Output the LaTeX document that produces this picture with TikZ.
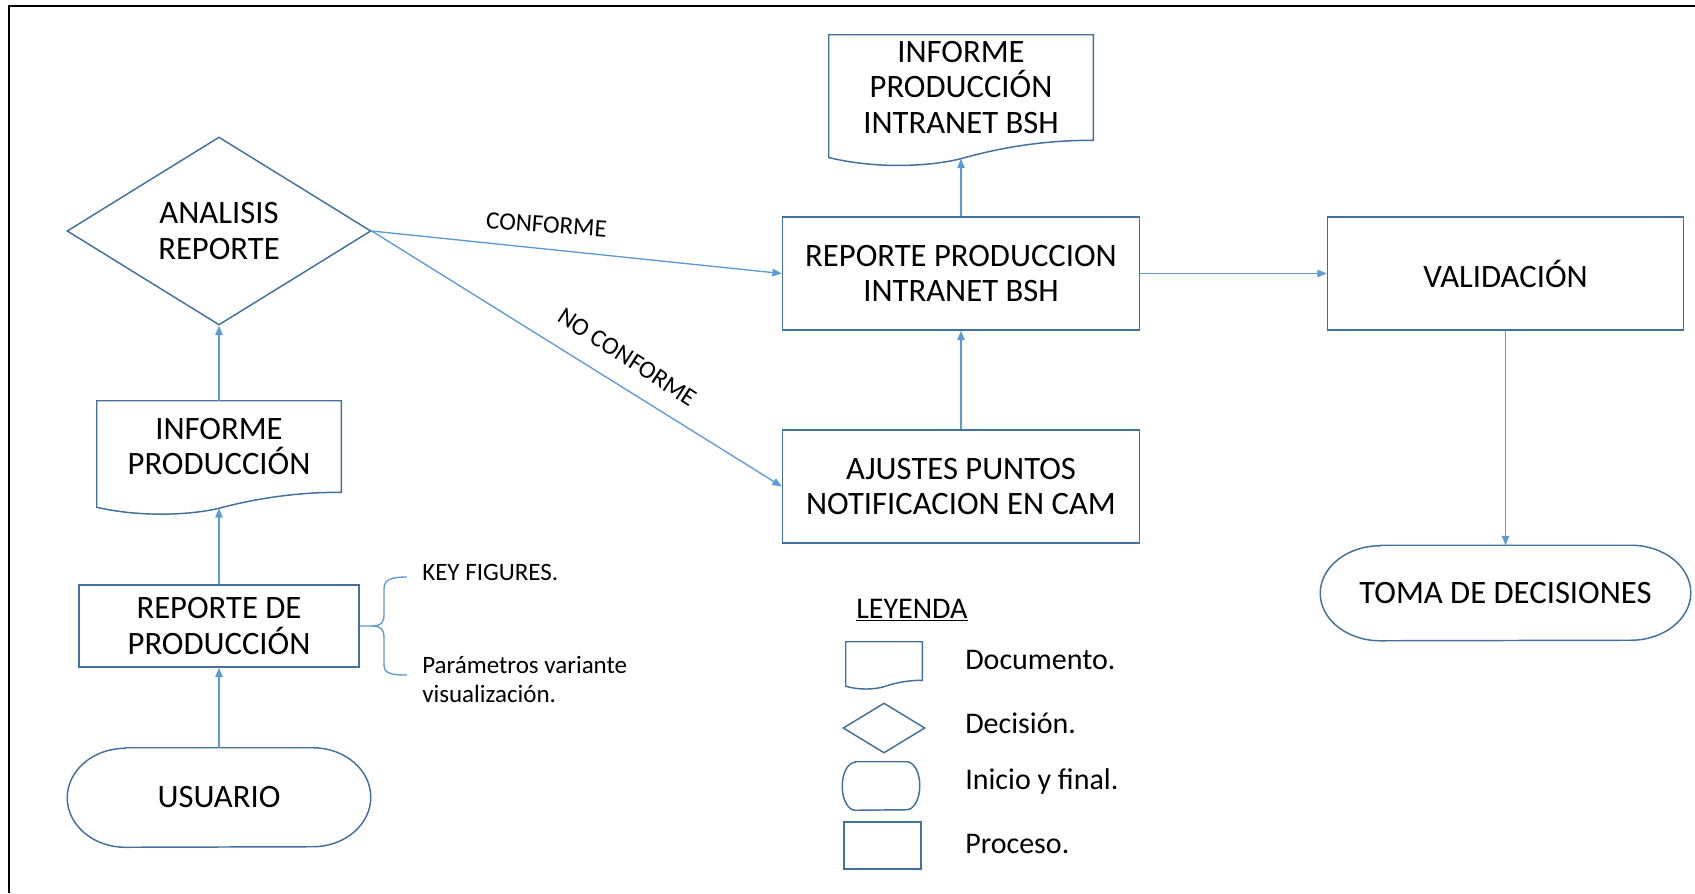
\documentclass[tikz,border=0pt]{standalone}
\usepackage{fontspec}
\setmainfont{Carlito}
\usetikzlibrary{shapes.geometric,arrows.meta,calc}
\definecolor{shpblue}{RGB}{65,113,156}
\definecolor{lnblue}{RGB}{91,155,213}
\newcommand\PX{0.75pt}
\newcommand\mainf{\fontsize{24.5}{26.6}\selectfont}
\newcommand\legf{\fontsize{22.5}{27}\selectfont}
\newcommand\smallf{\fontsize{18.75}{21.75}\selectfont}
% document shape drawn round a rectangle node: name, wave scale
\newcommand\mydoc[2]{%
  \draw[shp] (#1.south east) -- (#1.north east) -- (#1.north west) -- ($(#1.south west)+(0,{15*#2})$)
   .. controls ($(#1.south west)!0.176!(#1.south east)+(0,{25*#2})$) and ($(#1.south west)!0.38!(#1.south east)+(0,{23*#2})$) .. ($(#1.south)+(0,{16*#2})$)
   .. controls ($(#1.south west)!0.624!(#1.south east)+(0,{8*#2})$) and ($(#1.south west)!0.788!(#1.south east)$) .. (#1.south east) -- cycle;
  \coordinate (#1-b) at ($(#1.south)+(0,{16*#2})$);}
% terminator shape: name, x radius (px), y radius (px)
\newcommand\myterm[3]{%
  \draw[shp] ($(#1.north west)+(#2,0)$) -- ($(#1.north east)+(-#2,0)$)
    arc[start angle=90,end angle=-90,x radius=#2*\PX,y radius=#3*\PX]
    -- ($(#1.south west)+(#2,0)$)
    arc[start angle=-90,end angle=-270,x radius=#2*\PX,y radius=#3*\PX] -- cycle;}
\tikzset{
  shp/.style={draw=shpblue, line width=1.1pt},
  conn/.style={draw=lnblue, line width=1pt, -{Triangle[length=7pt,width=5.5pt]}},
  brc/.style={draw=lnblue, line width=1pt},
  box/.style={rectangle, shp, inner sep=0pt, align=center, font=\mainf},
  blank/.style={rectangle, inner sep=0pt, align=center, font=\mainf},
  dianode/.style={diamond, shp, inner sep=0pt, aspect=1.6, align=center, font=\mainf},
  leg/.style={inner sep=0pt, font=\legf},
  sidetxt/.style={inner sep=0pt, font=\smallf},
  lab/.style={inner sep=0pt, font=\smallf},
}
\begin{document}
\begin{tikzpicture}[x=0.75pt,y=-0.75pt]
\useasboundingbox (0,0) rectangle (1695,893);
\fill[white] (0,0) rectangle (1695,893);
\draw[line width=2.2pt, line join=miter] (9,893) -- (9,6) -- (1695,6);

% left column
\node[dianode, minimum width=304*\PX, minimum height=188*\PX] (dia) at (219,231) {ANALISIS\\REPORTE};
\node[blank, minimum width=244*\PX, minimum height=91*\PX] (ipd) at (219,446.5) {INFORME\\PRODUCCIÓN};
\node[box, minimum width=280*\PX, minimum height=82*\PX] (rdp) at (219,626) {REPORTE DE\\PRODUCCIÓN};
\node[blank, minimum width=303*\PX, minimum height=99*\PX] (usr) at (219,797.5) {USUARIO};

% middle column
\node[blank, minimum width=264*\PX, minimum height=105*\PX] (ipi) at (961,87.5) {INFORME\\PRODUCCIÓN\\INTRANET BSH};
\node[box, minimum width=357*\PX, minimum height=113*\PX] (rpi) at (961,273.5) {REPORTE PRODUCCION\\INTRANET BSH};
\node[box, minimum width=357*\PX, minimum height=113*\PX] (aju) at (961,486.5) {AJUSTES PUNTOS\\NOTIFICACION EN CAM};

% right column
\node[box, minimum width=356*\PX, minimum height=113*\PX] (val) at (1505.5,273.5) {VALIDACIÓN};
\node[blank, minimum width=370*\PX, minimum height=95*\PX] (tom) at (1505.5,593) {TOMA DE DECISIONES};

% shapes drawn round the blank nodes
\mydoc{ipd}{1}
\mydoc{ipi}{1.15}
\myterm{usr}{58}{49.5}
\myterm{tom}{60}{47.5}

% side notes
\node[sidetxt, anchor=base west] (tkey) at (422,580) {KEY FIGURES.};
\node[sidetxt, anchor=base west] (tpar) at (422,673) {Parámetros variante};
\node[sidetxt, anchor=base west] (tvis) at (422,702) {visualización.};
\coordinate (bt) at (407,577);
\coordinate (bb) at (407,675);
\draw[brc] (rdp.east) -- (372,626) .. controls (381,626) and (384,623) .. (384,614) -- (384,589) .. controls (384,580) and (390,577) .. (bt);
\draw[brc] (372,626) .. controls (381,626) and (384,629) .. (384,638) -- (384,665) .. controls (384,673) and (390,675) .. (bb);

% connectors
\draw[conn] (usr.north) -- (rdp.south);
\draw[conn] (rdp.north) -- (ipd-b);
\draw[conn] (ipd.north) -- (dia.south);
\draw[conn] (dia.east) -- (rpi.west);
\draw[conn] (dia.east) -- (aju.west);
\draw[conn] (aju.north) -- (rpi.south);
\draw[conn] (rpi.north) -- (ipi-b);
\draw[conn] (rpi.east) -- (val.west);
\draw[conn] (val.south) -- (tom.north);

\node[lab, rotate=-4] (lconf) at (546.5,225) {CONFORME};
\node[lab, rotate=-33] (lnoconf) at (627.5,357.5) {NO CONFORME};

% legend
\node[leg, anchor=base west] (tley) at (856,618) {\underline{LEYENDA}};
\node[blank, minimum width=76*\PX, minimum height=38*\PX] (ldoc) at (884,661) {};
\mydoc{ldoc}{0.4}
\node[diamond, shp, inner sep=0pt, minimum width=82*\PX, minimum height=50*\PX] (ldia) at (884,728) {};
\node[blank, minimum width=77*\PX, minimum height=48*\PX] (lter) at (881,786) {};
\myterm{lter}{13}{24}
\node[rectangle, shp, inner sep=0pt, minimum width=77*\PX, minimum height=47*\PX] (lrec) at (882.5,845.5) {};
\node[leg, anchor=base west] (tdoc) at (965,669) {Documento.};
\node[leg, anchor=base west] (tdec) at (965,733) {Decisión.};
\node[leg, anchor=base west] (tini) at (965,789) {Inicio y final.};
\node[leg, anchor=base west] (tpro) at (965,853) {Proceso.};
\end{tikzpicture}
\end{document}
